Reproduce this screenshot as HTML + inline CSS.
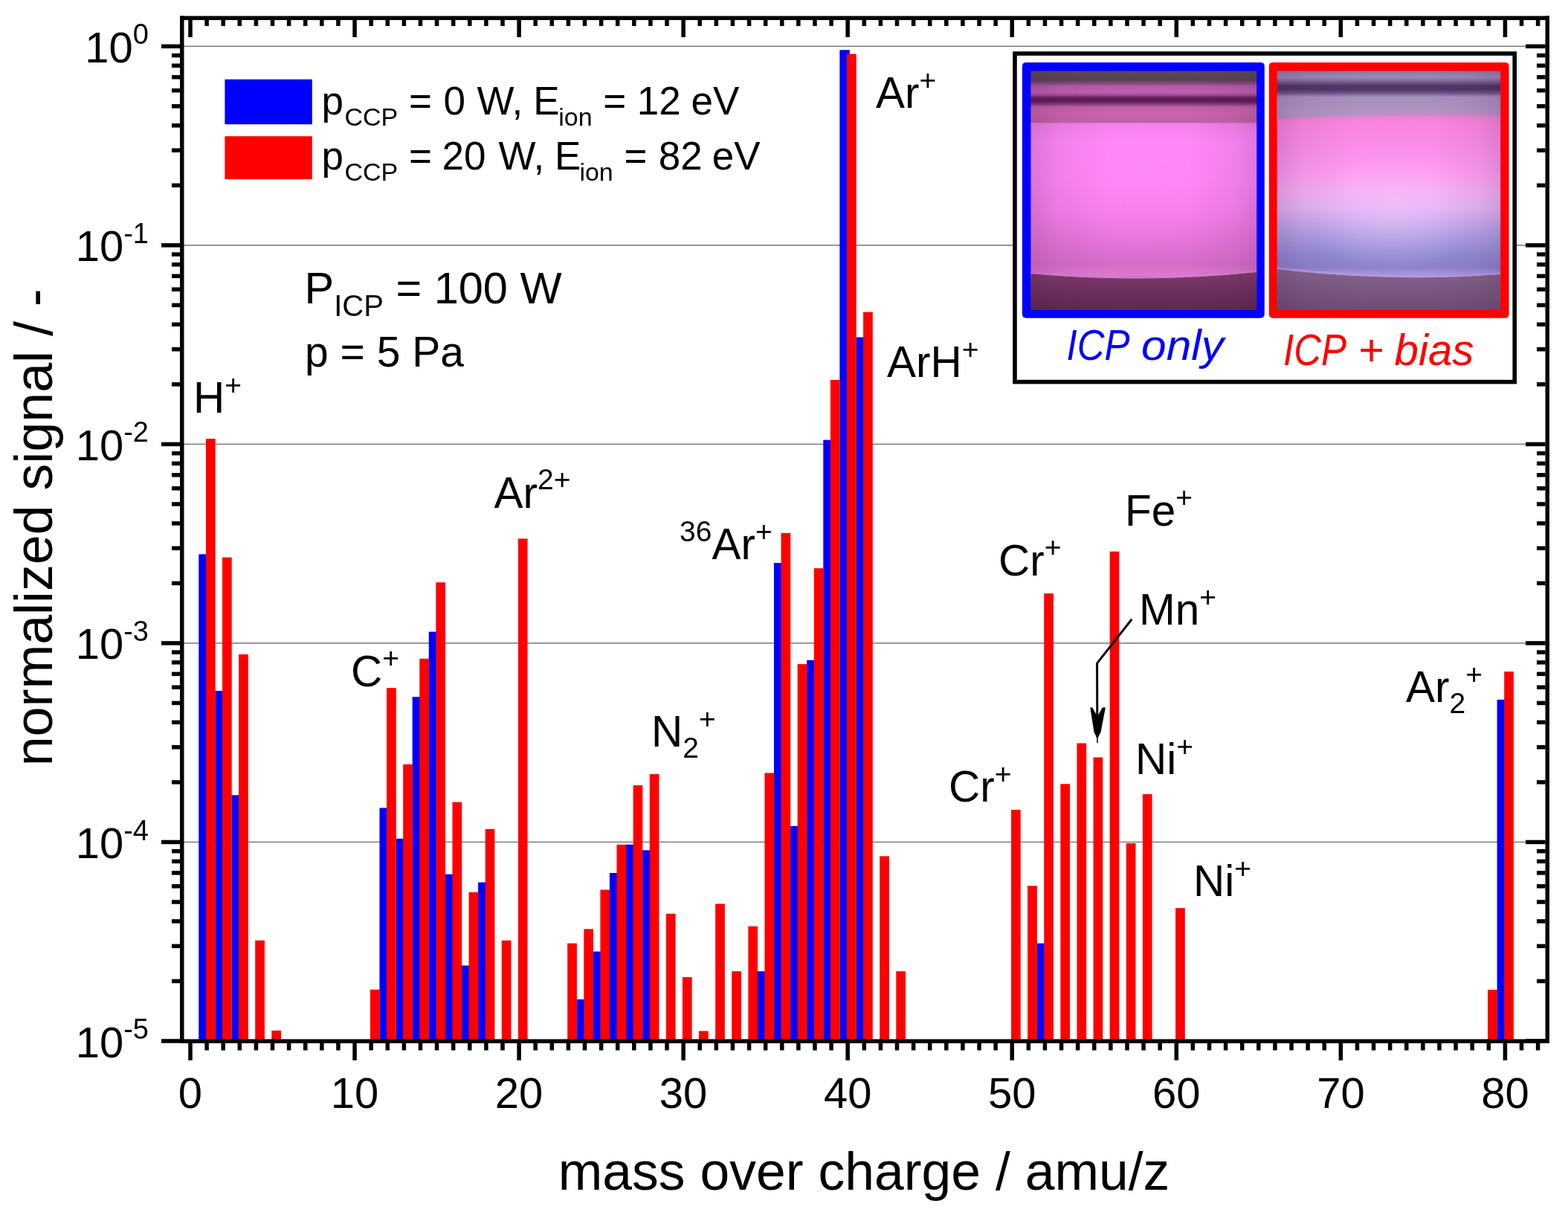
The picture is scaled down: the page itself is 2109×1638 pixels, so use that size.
<!DOCTYPE html><html><head><meta charset="utf-8"><title>Mass spectrum</title>
<style>html,body{margin:0;padding:0;background:#fff;}svg{display:block;}text{font-family:"Liberation Sans",Arial,sans-serif;fill:#000;}.it{font-family:"Liberation Sans",Arial,sans-serif;font-style:italic;}</style></head><body>
<svg width="2109" height="1638" viewBox="0 0 2109 1638">
<rect x="0" y="0" width="2109" height="1638" fill="#fff"/>
<defs>
<linearGradient id="gL" x1="0" y1="0" x2="0" y2="1"><stop offset="0.0000" stop-color="#5c4a58"/><stop offset="0.0389" stop-color="#584252"/><stop offset="0.0514" stop-color="#8a4880"/><stop offset="0.0638" stop-color="#b45aa6"/><stop offset="0.0887" stop-color="#c060b0"/><stop offset="0.1012" stop-color="#a04a94"/><stop offset="0.1105" stop-color="#6a2260"/><stop offset="0.1229" stop-color="#581850"/><stop offset="0.1354" stop-color="#7a3072"/><stop offset="0.1509" stop-color="#c062a8"/><stop offset="0.1758" stop-color="#c864ac"/><stop offset="0.2007" stop-color="#c662a8"/><stop offset="0.2132" stop-color="#c060a4"/><stop offset="0.2210" stop-color="#f07ee8"/><stop offset="0.2941" stop-color="#fc86f6"/><stop offset="0.4497" stop-color="#fb84f4"/><stop offset="0.5898" stop-color="#f47ee8"/><stop offset="0.6832" stop-color="#e676da"/><stop offset="0.7547" stop-color="#dc70d0"/><stop offset="0.8077" stop-color="#d46cc6"/><stop offset="0.8388" stop-color="#d874cc"/><stop offset="0.8543" stop-color="#dc7cd2"/><stop offset="0.8668" stop-color="#a85898"/><stop offset="0.8792" stop-color="#7e3c6a"/><stop offset="0.9477" stop-color="#6e3060"/><stop offset="1.0000" stop-color="#5c2a4c"/></linearGradient>
<linearGradient id="gR" x1="0" y1="0" x2="0" y2="1"><stop offset="0.0000" stop-color="#8a76a6"/><stop offset="0.0265" stop-color="#9c88b8"/><stop offset="0.0451" stop-color="#7a6090"/><stop offset="0.0607" stop-color="#503866"/><stop offset="0.0763" stop-color="#4c3462"/><stop offset="0.0918" stop-color="#6c5488"/><stop offset="0.1105" stop-color="#a890c0"/><stop offset="0.1634" stop-color="#b294c2"/><stop offset="0.1790" stop-color="#c08cc0"/><stop offset="0.1945" stop-color="#e884d4"/><stop offset="0.2132" stop-color="#f884dc"/><stop offset="0.3252" stop-color="#fa8ee8"/><stop offset="0.4342" stop-color="#fc9ef2"/><stop offset="0.5058" stop-color="#f4aef4"/><stop offset="0.5680" stop-color="#e4b4f4"/><stop offset="0.6303" stop-color="#c8aaee"/><stop offset="0.6987" stop-color="#a89ce0"/><stop offset="0.7765" stop-color="#9088d0"/><stop offset="0.8232" stop-color="#8c82cc"/><stop offset="0.8450" stop-color="#a690da"/><stop offset="0.8606" stop-color="#ae96de"/><stop offset="0.8730" stop-color="#8a6a98"/><stop offset="0.8855" stop-color="#7e5e84"/><stop offset="1.0000" stop-color="#6e4e72"/></linearGradient>
<linearGradient id="vig" x1="0" y1="0" x2="1" y2="0"><stop offset="0" stop-color="#401040" stop-opacity="0.16"/><stop offset="0.12" stop-color="#401040" stop-opacity="0.06"/><stop offset="0.35" stop-color="#401040" stop-opacity="0"/><stop offset="0.7" stop-color="#401040" stop-opacity="0"/><stop offset="0.9" stop-color="#401040" stop-opacity="0.06"/><stop offset="1" stop-color="#401040" stop-opacity="0.14"/></linearGradient>
<radialGradient id="hlL" cx="0.48" cy="0.3" r="0.6"><stop offset="0" stop-color="#ff90ff" stop-opacity="0.35"/><stop offset="1" stop-color="#ff90ff" stop-opacity="0"/></radialGradient>
<radialGradient id="hlR" cx="0.52" cy="0.6" r="0.38"><stop offset="0" stop-color="#f4d4ff" stop-opacity="0.35"/><stop offset="1" stop-color="#f4d4ff" stop-opacity="0"/></radialGradient>
<linearGradient id="bandL" x1="0" y1="0" x2="0" y2="1"><stop offset="0" stop-color="#7e3c6a"/><stop offset="0.5" stop-color="#6e3060"/><stop offset="1" stop-color="#5c2a4c"/></linearGradient>
<linearGradient id="bandR" x1="0" y1="0" x2="0" y2="1"><stop offset="0" stop-color="#84648e"/><stop offset="1" stop-color="#6e4e72"/></linearGradient>
<linearGradient id="lavR" x1="0" y1="0" x2="0" y2="1"><stop offset="0" stop-color="#a68ebe"/><stop offset="0.8" stop-color="#b294c2"/><stop offset="1" stop-color="#bc8ec2"/></linearGradient>
<clipPath id="clipR"><rect x="1717.7" y="95.5" width="300.4" height="321.3"/></clipPath>
<filter id="soft" x="-5%" y="-30%" width="110%" height="160%"><feGaussianBlur stdDeviation="1.8"/></filter>
</defs>
<rect x="244.75" y="61.50" width="1836.50" height="1.6" fill="#808080"/>
<rect x="244.75" y="329.04" width="1836.50" height="1.6" fill="#808080"/>
<rect x="244.75" y="596.58" width="1836.50" height="1.6" fill="#808080"/>
<rect x="244.75" y="864.12" width="1836.50" height="1.6" fill="#808080"/>
<rect x="244.75" y="1131.66" width="1836.50" height="1.6" fill="#808080"/>
<rect x="267.31" y="745.3" width="13.50" height="655.0" fill="#0000ff"/>
<rect x="289.41" y="929.0" width="13.50" height="471.2" fill="#0000ff"/>
<rect x="311.51" y="1069.3" width="13.50" height="331.0" fill="#0000ff"/>
<rect x="510.46" y="1086.5" width="13.50" height="313.8" fill="#0000ff"/>
<rect x="532.57" y="1127.8" width="13.50" height="272.5" fill="#0000ff"/>
<rect x="554.67" y="937.2" width="13.50" height="463.0" fill="#0000ff"/>
<rect x="576.78" y="849.6" width="13.50" height="550.6" fill="#0000ff"/>
<rect x="598.88" y="1175.7" width="13.50" height="224.5" fill="#0000ff"/>
<rect x="620.99" y="1298.5" width="13.50" height="101.8" fill="#0000ff"/>
<rect x="643.09" y="1186.6" width="13.50" height="213.7" fill="#0000ff"/>
<rect x="775.72" y="1344.0" width="13.50" height="56.2" fill="#0000ff"/>
<rect x="797.83" y="1279.6" width="13.50" height="120.7" fill="#0000ff"/>
<rect x="819.93" y="1174.0" width="13.50" height="226.2" fill="#0000ff"/>
<rect x="842.04" y="1135.8" width="13.50" height="264.5" fill="#0000ff"/>
<rect x="864.14" y="1143.4" width="13.50" height="256.8" fill="#0000ff"/>
<rect x="1018.88" y="1306.2" width="13.50" height="94.0" fill="#0000ff"/>
<rect x="1040.98" y="757.0" width="13.50" height="643.2" fill="#0000ff"/>
<rect x="1063.09" y="1110.9" width="13.50" height="289.3" fill="#0000ff"/>
<rect x="1085.19" y="887.8" width="13.50" height="512.5" fill="#0000ff"/>
<rect x="1107.30" y="591.6" width="13.50" height="808.6" fill="#0000ff"/>
<rect x="1129.40" y="67.2" width="13.50" height="1333.0" fill="#0000ff"/>
<rect x="1151.51" y="453.5" width="13.50" height="946.8" fill="#0000ff"/>
<rect x="1394.66" y="1268.6" width="13.50" height="131.7" fill="#0000ff"/>
<rect x="2013.60" y="940.9" width="13.50" height="459.4" fill="#0000ff"/>
<rect x="276.91" y="590.0" width="12.70" height="810.2" fill="#ff0000"/>
<rect x="299.01" y="749.6" width="12.70" height="650.6" fill="#ff0000"/>
<rect x="321.12" y="880.0" width="12.70" height="520.2" fill="#ff0000"/>
<rect x="343.22" y="1264.7" width="12.70" height="135.5" fill="#ff0000"/>
<rect x="365.32" y="1385.9" width="12.70" height="14.3" fill="#ff0000"/>
<rect x="497.95" y="1330.8" width="12.70" height="69.5" fill="#ff0000"/>
<rect x="520.06" y="925.2" width="12.70" height="475.0" fill="#ff0000"/>
<rect x="542.16" y="1027.9" width="12.70" height="372.3" fill="#ff0000"/>
<rect x="564.27" y="885.8" width="12.70" height="514.5" fill="#ff0000"/>
<rect x="586.38" y="783.2" width="12.70" height="617.0" fill="#ff0000"/>
<rect x="608.48" y="1078.7" width="12.70" height="321.5" fill="#ff0000"/>
<rect x="630.59" y="1199.9" width="12.70" height="200.3" fill="#ff0000"/>
<rect x="652.69" y="1114.9" width="12.70" height="285.3" fill="#ff0000"/>
<rect x="674.79" y="1264.7" width="12.70" height="135.5" fill="#ff0000"/>
<rect x="696.90" y="724.4" width="12.70" height="675.9" fill="#ff0000"/>
<rect x="763.21" y="1268.6" width="12.70" height="131.7" fill="#ff0000"/>
<rect x="785.32" y="1249.4" width="12.70" height="150.8" fill="#ff0000"/>
<rect x="807.42" y="1196.6" width="12.70" height="203.7" fill="#ff0000"/>
<rect x="829.53" y="1135.8" width="12.70" height="264.5" fill="#ff0000"/>
<rect x="851.63" y="1056.1" width="12.70" height="344.2" fill="#ff0000"/>
<rect x="873.74" y="1041.1" width="12.70" height="359.2" fill="#ff0000"/>
<rect x="895.84" y="1228.8" width="12.70" height="171.5" fill="#ff0000"/>
<rect x="917.95" y="1314.1" width="12.70" height="86.2" fill="#ff0000"/>
<rect x="940.05" y="1386.5" width="12.70" height="13.8" fill="#ff0000"/>
<rect x="962.16" y="1215.5" width="12.70" height="184.8" fill="#ff0000"/>
<rect x="984.26" y="1306.2" width="12.70" height="94.0" fill="#ff0000"/>
<rect x="1006.37" y="1245.7" width="12.70" height="154.5" fill="#ff0000"/>
<rect x="1028.48" y="1039.5" width="12.70" height="360.8" fill="#ff0000"/>
<rect x="1050.58" y="716.8" width="12.70" height="683.5" fill="#ff0000"/>
<rect x="1072.68" y="893.1" width="12.70" height="507.1" fill="#ff0000"/>
<rect x="1094.79" y="764.2" width="12.70" height="636.0" fill="#ff0000"/>
<rect x="1116.89" y="510.9" width="12.70" height="889.4" fill="#ff0000"/>
<rect x="1139.00" y="72.5" width="12.70" height="1327.8" fill="#ff0000"/>
<rect x="1161.11" y="419.6" width="12.70" height="980.6" fill="#ff0000"/>
<rect x="1183.21" y="1151.4" width="12.70" height="248.8" fill="#ff0000"/>
<rect x="1205.31" y="1306.2" width="12.70" height="94.0" fill="#ff0000"/>
<rect x="1360.05" y="1089.0" width="12.70" height="311.2" fill="#ff0000"/>
<rect x="1382.15" y="1191.3" width="12.70" height="209.0" fill="#ff0000"/>
<rect x="1404.26" y="798.1" width="12.70" height="602.1" fill="#ff0000"/>
<rect x="1426.37" y="1054.3" width="12.70" height="346.0" fill="#ff0000"/>
<rect x="1448.47" y="999.5" width="12.70" height="400.8" fill="#ff0000"/>
<rect x="1470.58" y="1018.5" width="12.70" height="381.8" fill="#ff0000"/>
<rect x="1492.68" y="741.7" width="12.70" height="658.5" fill="#ff0000"/>
<rect x="1514.79" y="1134.1" width="12.70" height="266.2" fill="#ff0000"/>
<rect x="1536.89" y="1068.0" width="12.70" height="332.2" fill="#ff0000"/>
<rect x="1581.10" y="1221.2" width="12.70" height="179.0" fill="#ff0000"/>
<rect x="2001.10" y="1331.0" width="12.70" height="69.2" fill="#ff0000"/>
<rect x="2023.20" y="903.2" width="12.70" height="497.0" fill="#ff0000"/>
<rect x="242.0" y="21.5" width="1842.0" height="5.5" fill="#000"/>
<rect x="242.0" y="1397.5" width="1842.0" height="5.5" fill="#000"/>
<rect x="242.0" y="21.5" width="5.5" height="1381.5" fill="#000"/>
<rect x="2078.5" y="21.5" width="5.5" height="1381.5" fill="#000"/>
<rect x="253.25" y="1403.00" width="5.5" height="23" fill="#000"/>
<rect x="253.25" y="27.00" width="5.5" height="23" fill="#000"/>
<rect x="275.36" y="1403.00" width="5.5" height="9.5" fill="#000"/>
<rect x="275.36" y="27.00" width="5.5" height="8" fill="#000"/>
<rect x="297.46" y="1403.00" width="5.5" height="9.5" fill="#000"/>
<rect x="297.46" y="27.00" width="5.5" height="8" fill="#000"/>
<rect x="319.56" y="1403.00" width="5.5" height="9.5" fill="#000"/>
<rect x="319.56" y="27.00" width="5.5" height="8" fill="#000"/>
<rect x="341.67" y="1403.00" width="5.5" height="9.5" fill="#000"/>
<rect x="341.67" y="27.00" width="5.5" height="8" fill="#000"/>
<rect x="363.77" y="1403.00" width="5.5" height="9.5" fill="#000"/>
<rect x="363.77" y="27.00" width="5.5" height="8" fill="#000"/>
<rect x="385.88" y="1403.00" width="5.5" height="9.5" fill="#000"/>
<rect x="385.88" y="27.00" width="5.5" height="8" fill="#000"/>
<rect x="407.99" y="1403.00" width="5.5" height="9.5" fill="#000"/>
<rect x="407.99" y="27.00" width="5.5" height="8" fill="#000"/>
<rect x="430.09" y="1403.00" width="5.5" height="9.5" fill="#000"/>
<rect x="430.09" y="27.00" width="5.5" height="8" fill="#000"/>
<rect x="452.19" y="1403.00" width="5.5" height="9.5" fill="#000"/>
<rect x="452.19" y="27.00" width="5.5" height="8" fill="#000"/>
<rect x="474.30" y="1403.00" width="5.5" height="23" fill="#000"/>
<rect x="474.30" y="27.00" width="5.5" height="23" fill="#000"/>
<rect x="496.40" y="1403.00" width="5.5" height="9.5" fill="#000"/>
<rect x="496.40" y="27.00" width="5.5" height="8" fill="#000"/>
<rect x="518.51" y="1403.00" width="5.5" height="9.5" fill="#000"/>
<rect x="518.51" y="27.00" width="5.5" height="8" fill="#000"/>
<rect x="540.62" y="1403.00" width="5.5" height="9.5" fill="#000"/>
<rect x="540.62" y="27.00" width="5.5" height="8" fill="#000"/>
<rect x="562.72" y="1403.00" width="5.5" height="9.5" fill="#000"/>
<rect x="562.72" y="27.00" width="5.5" height="8" fill="#000"/>
<rect x="584.83" y="1403.00" width="5.5" height="9.5" fill="#000"/>
<rect x="584.83" y="27.00" width="5.5" height="8" fill="#000"/>
<rect x="606.93" y="1403.00" width="5.5" height="9.5" fill="#000"/>
<rect x="606.93" y="27.00" width="5.5" height="8" fill="#000"/>
<rect x="629.04" y="1403.00" width="5.5" height="9.5" fill="#000"/>
<rect x="629.04" y="27.00" width="5.5" height="8" fill="#000"/>
<rect x="651.14" y="1403.00" width="5.5" height="9.5" fill="#000"/>
<rect x="651.14" y="27.00" width="5.5" height="8" fill="#000"/>
<rect x="673.25" y="1403.00" width="5.5" height="9.5" fill="#000"/>
<rect x="673.25" y="27.00" width="5.5" height="8" fill="#000"/>
<rect x="695.35" y="1403.00" width="5.5" height="23" fill="#000"/>
<rect x="695.35" y="27.00" width="5.5" height="23" fill="#000"/>
<rect x="717.45" y="1403.00" width="5.5" height="9.5" fill="#000"/>
<rect x="717.45" y="27.00" width="5.5" height="8" fill="#000"/>
<rect x="739.56" y="1403.00" width="5.5" height="9.5" fill="#000"/>
<rect x="739.56" y="27.00" width="5.5" height="8" fill="#000"/>
<rect x="761.66" y="1403.00" width="5.5" height="9.5" fill="#000"/>
<rect x="761.66" y="27.00" width="5.5" height="8" fill="#000"/>
<rect x="783.77" y="1403.00" width="5.5" height="9.5" fill="#000"/>
<rect x="783.77" y="27.00" width="5.5" height="8" fill="#000"/>
<rect x="805.88" y="1403.00" width="5.5" height="9.5" fill="#000"/>
<rect x="805.88" y="27.00" width="5.5" height="8" fill="#000"/>
<rect x="827.98" y="1403.00" width="5.5" height="9.5" fill="#000"/>
<rect x="827.98" y="27.00" width="5.5" height="8" fill="#000"/>
<rect x="850.09" y="1403.00" width="5.5" height="9.5" fill="#000"/>
<rect x="850.09" y="27.00" width="5.5" height="8" fill="#000"/>
<rect x="872.19" y="1403.00" width="5.5" height="9.5" fill="#000"/>
<rect x="872.19" y="27.00" width="5.5" height="8" fill="#000"/>
<rect x="894.29" y="1403.00" width="5.5" height="9.5" fill="#000"/>
<rect x="894.29" y="27.00" width="5.5" height="8" fill="#000"/>
<rect x="916.40" y="1403.00" width="5.5" height="23" fill="#000"/>
<rect x="916.40" y="27.00" width="5.5" height="23" fill="#000"/>
<rect x="938.50" y="1403.00" width="5.5" height="9.5" fill="#000"/>
<rect x="938.50" y="27.00" width="5.5" height="8" fill="#000"/>
<rect x="960.61" y="1403.00" width="5.5" height="9.5" fill="#000"/>
<rect x="960.61" y="27.00" width="5.5" height="8" fill="#000"/>
<rect x="982.72" y="1403.00" width="5.5" height="9.5" fill="#000"/>
<rect x="982.72" y="27.00" width="5.5" height="8" fill="#000"/>
<rect x="1004.82" y="1403.00" width="5.5" height="9.5" fill="#000"/>
<rect x="1004.82" y="27.00" width="5.5" height="8" fill="#000"/>
<rect x="1026.93" y="1403.00" width="5.5" height="9.5" fill="#000"/>
<rect x="1026.93" y="27.00" width="5.5" height="8" fill="#000"/>
<rect x="1049.03" y="1403.00" width="5.5" height="9.5" fill="#000"/>
<rect x="1049.03" y="27.00" width="5.5" height="8" fill="#000"/>
<rect x="1071.13" y="1403.00" width="5.5" height="9.5" fill="#000"/>
<rect x="1071.13" y="27.00" width="5.5" height="8" fill="#000"/>
<rect x="1093.24" y="1403.00" width="5.5" height="9.5" fill="#000"/>
<rect x="1093.24" y="27.00" width="5.5" height="8" fill="#000"/>
<rect x="1115.35" y="1403.00" width="5.5" height="9.5" fill="#000"/>
<rect x="1115.35" y="27.00" width="5.5" height="8" fill="#000"/>
<rect x="1137.45" y="1403.00" width="5.5" height="23" fill="#000"/>
<rect x="1137.45" y="27.00" width="5.5" height="23" fill="#000"/>
<rect x="1159.56" y="1403.00" width="5.5" height="9.5" fill="#000"/>
<rect x="1159.56" y="27.00" width="5.5" height="8" fill="#000"/>
<rect x="1181.66" y="1403.00" width="5.5" height="9.5" fill="#000"/>
<rect x="1181.66" y="27.00" width="5.5" height="8" fill="#000"/>
<rect x="1203.76" y="1403.00" width="5.5" height="9.5" fill="#000"/>
<rect x="1203.76" y="27.00" width="5.5" height="8" fill="#000"/>
<rect x="1225.87" y="1403.00" width="5.5" height="9.5" fill="#000"/>
<rect x="1225.87" y="27.00" width="5.5" height="8" fill="#000"/>
<rect x="1247.97" y="1403.00" width="5.5" height="9.5" fill="#000"/>
<rect x="1247.97" y="27.00" width="5.5" height="8" fill="#000"/>
<rect x="1270.08" y="1403.00" width="5.5" height="9.5" fill="#000"/>
<rect x="1270.08" y="27.00" width="5.5" height="8" fill="#000"/>
<rect x="1292.18" y="1403.00" width="5.5" height="9.5" fill="#000"/>
<rect x="1292.18" y="27.00" width="5.5" height="8" fill="#000"/>
<rect x="1314.29" y="1403.00" width="5.5" height="9.5" fill="#000"/>
<rect x="1314.29" y="27.00" width="5.5" height="8" fill="#000"/>
<rect x="1336.39" y="1403.00" width="5.5" height="9.5" fill="#000"/>
<rect x="1336.39" y="27.00" width="5.5" height="8" fill="#000"/>
<rect x="1358.50" y="1403.00" width="5.5" height="23" fill="#000"/>
<rect x="1358.50" y="27.00" width="5.5" height="23" fill="#000"/>
<rect x="1380.61" y="1403.00" width="5.5" height="9.5" fill="#000"/>
<rect x="1380.61" y="27.00" width="5.5" height="8" fill="#000"/>
<rect x="1402.71" y="1403.00" width="5.5" height="9.5" fill="#000"/>
<rect x="1402.71" y="27.00" width="5.5" height="8" fill="#000"/>
<rect x="1424.82" y="1403.00" width="5.5" height="9.5" fill="#000"/>
<rect x="1424.82" y="27.00" width="5.5" height="8" fill="#000"/>
<rect x="1446.92" y="1403.00" width="5.5" height="9.5" fill="#000"/>
<rect x="1446.92" y="27.00" width="5.5" height="8" fill="#000"/>
<rect x="1469.03" y="1403.00" width="5.5" height="9.5" fill="#000"/>
<rect x="1469.03" y="27.00" width="5.5" height="8" fill="#000"/>
<rect x="1491.13" y="1403.00" width="5.5" height="9.5" fill="#000"/>
<rect x="1491.13" y="27.00" width="5.5" height="8" fill="#000"/>
<rect x="1513.24" y="1403.00" width="5.5" height="9.5" fill="#000"/>
<rect x="1513.24" y="27.00" width="5.5" height="8" fill="#000"/>
<rect x="1535.34" y="1403.00" width="5.5" height="9.5" fill="#000"/>
<rect x="1535.34" y="27.00" width="5.5" height="8" fill="#000"/>
<rect x="1557.44" y="1403.00" width="5.5" height="9.5" fill="#000"/>
<rect x="1557.44" y="27.00" width="5.5" height="8" fill="#000"/>
<rect x="1579.55" y="1403.00" width="5.5" height="23" fill="#000"/>
<rect x="1579.55" y="27.00" width="5.5" height="23" fill="#000"/>
<rect x="1601.65" y="1403.00" width="5.5" height="9.5" fill="#000"/>
<rect x="1601.65" y="27.00" width="5.5" height="8" fill="#000"/>
<rect x="1623.76" y="1403.00" width="5.5" height="9.5" fill="#000"/>
<rect x="1623.76" y="27.00" width="5.5" height="8" fill="#000"/>
<rect x="1645.87" y="1403.00" width="5.5" height="9.5" fill="#000"/>
<rect x="1645.87" y="27.00" width="5.5" height="8" fill="#000"/>
<rect x="1667.97" y="1403.00" width="5.5" height="9.5" fill="#000"/>
<rect x="1667.97" y="27.00" width="5.5" height="8" fill="#000"/>
<rect x="1690.08" y="1403.00" width="5.5" height="9.5" fill="#000"/>
<rect x="1690.08" y="27.00" width="5.5" height="8" fill="#000"/>
<rect x="1712.18" y="1403.00" width="5.5" height="9.5" fill="#000"/>
<rect x="1712.18" y="27.00" width="5.5" height="8" fill="#000"/>
<rect x="1734.29" y="1403.00" width="5.5" height="9.5" fill="#000"/>
<rect x="1734.29" y="27.00" width="5.5" height="8" fill="#000"/>
<rect x="1756.39" y="1403.00" width="5.5" height="9.5" fill="#000"/>
<rect x="1756.39" y="27.00" width="5.5" height="8" fill="#000"/>
<rect x="1778.50" y="1403.00" width="5.5" height="9.5" fill="#000"/>
<rect x="1778.50" y="27.00" width="5.5" height="8" fill="#000"/>
<rect x="1800.60" y="1403.00" width="5.5" height="23" fill="#000"/>
<rect x="1800.60" y="27.00" width="5.5" height="23" fill="#000"/>
<rect x="1822.70" y="1403.00" width="5.5" height="9.5" fill="#000"/>
<rect x="1822.70" y="27.00" width="5.5" height="8" fill="#000"/>
<rect x="1844.81" y="1403.00" width="5.5" height="9.5" fill="#000"/>
<rect x="1844.81" y="27.00" width="5.5" height="8" fill="#000"/>
<rect x="1866.91" y="1403.00" width="5.5" height="9.5" fill="#000"/>
<rect x="1866.91" y="27.00" width="5.5" height="8" fill="#000"/>
<rect x="1889.02" y="1403.00" width="5.5" height="9.5" fill="#000"/>
<rect x="1889.02" y="27.00" width="5.5" height="8" fill="#000"/>
<rect x="1911.12" y="1403.00" width="5.5" height="9.5" fill="#000"/>
<rect x="1911.12" y="27.00" width="5.5" height="8" fill="#000"/>
<rect x="1933.23" y="1403.00" width="5.5" height="9.5" fill="#000"/>
<rect x="1933.23" y="27.00" width="5.5" height="8" fill="#000"/>
<rect x="1955.34" y="1403.00" width="5.5" height="9.5" fill="#000"/>
<rect x="1955.34" y="27.00" width="5.5" height="8" fill="#000"/>
<rect x="1977.44" y="1403.00" width="5.5" height="9.5" fill="#000"/>
<rect x="1977.44" y="27.00" width="5.5" height="8" fill="#000"/>
<rect x="1999.55" y="1403.00" width="5.5" height="9.5" fill="#000"/>
<rect x="1999.55" y="27.00" width="5.5" height="8" fill="#000"/>
<rect x="2021.65" y="1403.00" width="5.5" height="23" fill="#000"/>
<rect x="2021.65" y="27.00" width="5.5" height="23" fill="#000"/>
<rect x="2043.76" y="1403.00" width="5.5" height="9.5" fill="#000"/>
<rect x="2043.76" y="27.00" width="5.5" height="8" fill="#000"/>
<rect x="2065.86" y="1403.00" width="5.5" height="9.5" fill="#000"/>
<rect x="2065.86" y="27.00" width="5.5" height="8" fill="#000"/>
<rect x="217.00" y="327.09" width="25" height="5.5" fill="#000"/>
<rect x="2052.00" y="327.09" width="26.5" height="5.5" fill="#000"/>
<rect x="231.00" y="246.55" width="11" height="5.5" fill="#000"/>
<rect x="2067.00" y="246.55" width="11.5" height="5.5" fill="#000"/>
<rect x="231.00" y="199.44" width="11" height="5.5" fill="#000"/>
<rect x="2067.00" y="199.44" width="11.5" height="5.5" fill="#000"/>
<rect x="231.00" y="166.01" width="11" height="5.5" fill="#000"/>
<rect x="2067.00" y="166.01" width="11.5" height="5.5" fill="#000"/>
<rect x="231.00" y="140.09" width="11" height="5.5" fill="#000"/>
<rect x="2067.00" y="140.09" width="11.5" height="5.5" fill="#000"/>
<rect x="231.00" y="118.90" width="11" height="5.5" fill="#000"/>
<rect x="2067.00" y="118.90" width="11.5" height="5.5" fill="#000"/>
<rect x="231.00" y="100.99" width="11" height="5.5" fill="#000"/>
<rect x="2067.00" y="100.99" width="11.5" height="5.5" fill="#000"/>
<rect x="231.00" y="85.48" width="11" height="5.5" fill="#000"/>
<rect x="2067.00" y="85.48" width="11.5" height="5.5" fill="#000"/>
<rect x="231.00" y="71.79" width="11" height="5.5" fill="#000"/>
<rect x="2067.00" y="71.79" width="11.5" height="5.5" fill="#000"/>
<rect x="217.00" y="594.63" width="25" height="5.5" fill="#000"/>
<rect x="2052.00" y="594.63" width="26.5" height="5.5" fill="#000"/>
<rect x="231.00" y="514.09" width="11" height="5.5" fill="#000"/>
<rect x="2067.00" y="514.09" width="11.5" height="5.5" fill="#000"/>
<rect x="231.00" y="466.98" width="11" height="5.5" fill="#000"/>
<rect x="2067.00" y="466.98" width="11.5" height="5.5" fill="#000"/>
<rect x="231.00" y="433.55" width="11" height="5.5" fill="#000"/>
<rect x="2067.00" y="433.55" width="11.5" height="5.5" fill="#000"/>
<rect x="231.00" y="407.63" width="11" height="5.5" fill="#000"/>
<rect x="2067.00" y="407.63" width="11.5" height="5.5" fill="#000"/>
<rect x="231.00" y="386.44" width="11" height="5.5" fill="#000"/>
<rect x="2067.00" y="386.44" width="11.5" height="5.5" fill="#000"/>
<rect x="231.00" y="368.53" width="11" height="5.5" fill="#000"/>
<rect x="2067.00" y="368.53" width="11.5" height="5.5" fill="#000"/>
<rect x="231.00" y="353.02" width="11" height="5.5" fill="#000"/>
<rect x="2067.00" y="353.02" width="11.5" height="5.5" fill="#000"/>
<rect x="231.00" y="339.33" width="11" height="5.5" fill="#000"/>
<rect x="2067.00" y="339.33" width="11.5" height="5.5" fill="#000"/>
<rect x="217.00" y="862.17" width="25" height="5.5" fill="#000"/>
<rect x="2052.00" y="862.17" width="26.5" height="5.5" fill="#000"/>
<rect x="231.00" y="781.63" width="11" height="5.5" fill="#000"/>
<rect x="2067.00" y="781.63" width="11.5" height="5.5" fill="#000"/>
<rect x="231.00" y="734.52" width="11" height="5.5" fill="#000"/>
<rect x="2067.00" y="734.52" width="11.5" height="5.5" fill="#000"/>
<rect x="231.00" y="701.09" width="11" height="5.5" fill="#000"/>
<rect x="2067.00" y="701.09" width="11.5" height="5.5" fill="#000"/>
<rect x="231.00" y="675.17" width="11" height="5.5" fill="#000"/>
<rect x="2067.00" y="675.17" width="11.5" height="5.5" fill="#000"/>
<rect x="231.00" y="653.98" width="11" height="5.5" fill="#000"/>
<rect x="2067.00" y="653.98" width="11.5" height="5.5" fill="#000"/>
<rect x="231.00" y="636.07" width="11" height="5.5" fill="#000"/>
<rect x="2067.00" y="636.07" width="11.5" height="5.5" fill="#000"/>
<rect x="231.00" y="620.56" width="11" height="5.5" fill="#000"/>
<rect x="2067.00" y="620.56" width="11.5" height="5.5" fill="#000"/>
<rect x="231.00" y="606.87" width="11" height="5.5" fill="#000"/>
<rect x="2067.00" y="606.87" width="11.5" height="5.5" fill="#000"/>
<rect x="217.00" y="1129.71" width="25" height="5.5" fill="#000"/>
<rect x="2052.00" y="1129.71" width="26.5" height="5.5" fill="#000"/>
<rect x="231.00" y="1049.17" width="11" height="5.5" fill="#000"/>
<rect x="2067.00" y="1049.17" width="11.5" height="5.5" fill="#000"/>
<rect x="231.00" y="1002.06" width="11" height="5.5" fill="#000"/>
<rect x="2067.00" y="1002.06" width="11.5" height="5.5" fill="#000"/>
<rect x="231.00" y="968.63" width="11" height="5.5" fill="#000"/>
<rect x="2067.00" y="968.63" width="11.5" height="5.5" fill="#000"/>
<rect x="231.00" y="942.71" width="11" height="5.5" fill="#000"/>
<rect x="2067.00" y="942.71" width="11.5" height="5.5" fill="#000"/>
<rect x="231.00" y="921.52" width="11" height="5.5" fill="#000"/>
<rect x="2067.00" y="921.52" width="11.5" height="5.5" fill="#000"/>
<rect x="231.00" y="903.61" width="11" height="5.5" fill="#000"/>
<rect x="2067.00" y="903.61" width="11.5" height="5.5" fill="#000"/>
<rect x="231.00" y="888.10" width="11" height="5.5" fill="#000"/>
<rect x="2067.00" y="888.10" width="11.5" height="5.5" fill="#000"/>
<rect x="231.00" y="874.41" width="11" height="5.5" fill="#000"/>
<rect x="2067.00" y="874.41" width="11.5" height="5.5" fill="#000"/>
<rect x="217.00" y="1397.25" width="25" height="5.5" fill="#000"/>
<rect x="2052.00" y="1397.25" width="26.5" height="5.5" fill="#000"/>
<rect x="231.00" y="1316.71" width="11" height="5.5" fill="#000"/>
<rect x="2067.00" y="1316.71" width="11.5" height="5.5" fill="#000"/>
<rect x="231.00" y="1269.60" width="11" height="5.5" fill="#000"/>
<rect x="2067.00" y="1269.60" width="11.5" height="5.5" fill="#000"/>
<rect x="231.00" y="1236.17" width="11" height="5.5" fill="#000"/>
<rect x="2067.00" y="1236.17" width="11.5" height="5.5" fill="#000"/>
<rect x="231.00" y="1210.25" width="11" height="5.5" fill="#000"/>
<rect x="2067.00" y="1210.25" width="11.5" height="5.5" fill="#000"/>
<rect x="231.00" y="1189.06" width="11" height="5.5" fill="#000"/>
<rect x="2067.00" y="1189.06" width="11.5" height="5.5" fill="#000"/>
<rect x="231.00" y="1171.15" width="11" height="5.5" fill="#000"/>
<rect x="2067.00" y="1171.15" width="11.5" height="5.5" fill="#000"/>
<rect x="231.00" y="1155.64" width="11" height="5.5" fill="#000"/>
<rect x="2067.00" y="1155.64" width="11.5" height="5.5" fill="#000"/>
<rect x="231.00" y="1141.95" width="11" height="5.5" fill="#000"/>
<rect x="2067.00" y="1141.95" width="11.5" height="5.5" fill="#000"/>
<rect x="217.00" y="1664.79" width="25" height="5.5" fill="#000"/>
<rect x="2052.00" y="1664.79" width="26.5" height="5.5" fill="#000"/>
<rect x="217.00" y="59.55" width="25" height="5.5" fill="#000"/>
<rect x="2052.00" y="59.55" width="26.5" height="5.5" fill="#000"/>
<text x="200" y="83.8" font-size="58" text-anchor="end">10<tspan font-size="38" dy="-24.5">0</tspan></text>
<text x="200" y="351.3" font-size="58" text-anchor="end">10<tspan font-size="38" dy="-24.5">-1</tspan></text>
<text x="200" y="618.9" font-size="58" text-anchor="end">10<tspan font-size="38" dy="-24.5">-2</tspan></text>
<text x="200" y="886.4" font-size="58" text-anchor="end">10<tspan font-size="38" dy="-24.5">-3</tspan></text>
<text x="200" y="1154.0" font-size="58" text-anchor="end">10<tspan font-size="38" dy="-24.5">-4</tspan></text>
<text x="200" y="1421.5" font-size="58" text-anchor="end">10<tspan font-size="38" dy="-24.5">-5</tspan></text>
<text x="256.0" y="1490" font-size="58" text-anchor="middle">0</text>
<text x="477.1" y="1490" font-size="58" text-anchor="middle">10</text>
<text x="698.1" y="1490" font-size="58" text-anchor="middle">20</text>
<text x="919.1" y="1490" font-size="58" text-anchor="middle">30</text>
<text x="1140.2" y="1490" font-size="58" text-anchor="middle">40</text>
<text x="1361.2" y="1490" font-size="58" text-anchor="middle">50</text>
<text x="1582.3" y="1490" font-size="58" text-anchor="middle">60</text>
<text x="1803.4" y="1490" font-size="58" text-anchor="middle">70</text>
<text x="2024.4" y="1490" font-size="58" text-anchor="middle">80</text>
<text x="750.8" y="1599.6" font-size="71.5" id="xt">mass over charge / amu/z</text>
<text transform="translate(69.5,1030.3) rotate(-90)" x="0" y="0" font-size="71.75" id="yt">normalized signal / -</text>
<rect x="302.4" y="106.7" width="117.4" height="60.5" fill="#0000ff"/>
<rect x="302.4" y="183.2" width="117.4" height="57.9" fill="#ff0000"/>
<text y="153.6" font-size="53"><tspan x="432.6" y="153.6">p</tspan><tspan x="463.4" y="168.6" font-size="34">CCP</tspan><tspan x="550" y="153.6">=</tspan><tspan x="596.4" y="153.6">0</tspan><tspan x="641.4" y="153.6">W,</tspan><tspan x="717.2" y="153.6">E</tspan><tspan x="751.2" y="168.6" font-size="34">ion</tspan><tspan x="811.2" y="153.6">=</tspan><tspan x="856.8" y="153.6">12</tspan><tspan x="929.6" y="153.6">eV</tspan></text>
<text y="227.8" font-size="53"><tspan x="432.6" y="227.8">p</tspan><tspan x="463.4" y="242.8" font-size="34">CCP</tspan><tspan x="550" y="227.8">=</tspan><tspan x="594.6" y="227.8">20</tspan><tspan x="670.4" y="227.8">W,</tspan><tspan x="746.1" y="227.8">E</tspan><tspan x="779.4" y="242.8" font-size="34">ion</tspan><tspan x="839.4" y="227.8">=</tspan><tspan x="885.8" y="227.8">82</tspan><tspan x="957.8" y="227.8">eV</tspan></text>
<text x="409.5" y="407.8" font-size="59.5">P<tspan font-size="40" dy="17">ICP</tspan><tspan dy="-17"> = 100 W</tspan></text>
<text x="410" y="492.6" font-size="57">p = 5 Pa</text>
<text x="260" y="555.1" font-size="58.5">H<tspan font-size="39" dy="-24.5">+</tspan></text>
<text x="664.5" y="682.5" font-size="58.5">Ar<tspan font-size="39" dy="-24.5">2+</tspan></text>
<text x="472" y="922.7" font-size="58.5">C<tspan font-size="39" dy="-24.5">+</tspan></text>
<text x="914" y="752" font-size="58.5"><tspan font-size="39" dy="-24.5">36</tspan><tspan dy="24.5">Ar</tspan><tspan font-size="39" dy="-24.5">+</tspan></text>
<text x="876" y="1004.4" font-size="58.5">N<tspan font-size="39" dy="15">2</tspan><tspan font-size="39" dy="-39.5">+</tspan></text>
<text x="1178" y="145.1" font-size="58.5">Ar<tspan font-size="39" dy="-24.5">+</tspan></text>
<text x="1193" y="507.2" font-size="58.5">ArH<tspan font-size="39" dy="-24.5">+</tspan></text>
<text x="1343" y="773.5" font-size="58.5">Cr<tspan font-size="39" dy="-24.5">+</tspan></text>
<text x="1513" y="706.7" font-size="58.5">Fe<tspan font-size="39" dy="-24.5">+</tspan></text>
<text x="1532" y="840.3" font-size="58.5">Mn<tspan font-size="39" dy="-24.5">+</tspan></text>
<text x="1527" y="1041.4" font-size="58.5">Ni<tspan font-size="39" dy="-24.5">+</tspan></text>
<text x="1276" y="1078" font-size="58.5">Cr<tspan font-size="39" dy="-24.5">+</tspan></text>
<text x="1605" y="1205" font-size="58.5">Ni<tspan font-size="39" dy="-24.5">+</tspan></text>
<text x="1891" y="944.3" font-size="58.5">Ar<tspan font-size="39" dy="15">2</tspan><tspan font-size="39" dy="-39.5">+</tspan></text>
<polyline points="1522.3,832.8 1475.6,891.9 1475.9,992" fill="none" stroke="#000" stroke-width="3"/>
<line x1="1476" y1="990" x2="1476" y2="999.2" stroke="#000" stroke-width="1.5"/>
<polygon points="1466.3,951.5 1469.3,951.5 1476,963.5 1482.8,951.5 1486.9,951.5 1480.5,985 1476,993 1471.6,985" fill="#000"/>
<rect x="1365" y="72" width="672.2" height="441.6" fill="#fff" stroke="#000" stroke-width="5.6"/>
<rect x="1374.9" y="83.9" width="325.9" height="343.8" rx="5" fill="#0000ff"/>
<rect x="1386.5" y="95.5" width="303.7" height="321.3" fill="url(#gL)"/>
<rect x="1386.5" y="166.5" width="303.7" height="204" fill="url(#hlL)"/>
<path d="M1386.5,368 Q1538,382 1690.2,366 L1690.2,416.8 L1386.5,416.8 Z" fill="url(#bandL)"/>
<path d="M1386.5,366.5 Q1538,380.5 1690.2,364.5" fill="none" stroke="#d87ece" stroke-width="3" stroke-opacity="0.85"/>
<rect x="1386.5" y="95.5" width="303.7" height="321.3" fill="url(#vig)"/>
<rect x="1706.8" y="83.9" width="322.8" height="343.8" rx="5" fill="#ff0000"/>
<rect x="1717.7" y="95.5" width="300.4" height="321.3" fill="url(#gR)"/>
<rect x="1717.7" y="160" width="300.4" height="210" fill="url(#hlR)"/>
<g clip-path="url(#clipR)"><path d="M1712,130 L2024,130 L2024,150 Q1880,149 1712,161 Z" fill="url(#lavR)" filter="url(#soft)"/></g>
<path d="M1717.7,362 Q1868,380 2018.1,369 L2018.1,416.8 L1717.7,416.8 Z" fill="url(#bandR)"/>
<path d="M1717.7,360.5 Q1868,378.5 2018.1,367.5" fill="none" stroke="#b49ae2" stroke-width="3" stroke-opacity="0.85"/>
<rect x="1717.7" y="95.5" width="300.4" height="321.3" fill="url(#vig)"/>
<text class="it" x="1434.5" y="483.8" font-size="58" textLength="85" lengthAdjust="spacingAndGlyphs" style="fill:#0000ff">ICP</text>
<text class="it" x="1535" y="483.8" font-size="58" textLength="111" lengthAdjust="spacingAndGlyphs" style="fill:#0000ff">only</text>
<text class="it" x="1726" y="490.5" font-size="59" textLength="85" lengthAdjust="spacingAndGlyphs" style="fill:#ff0000">ICP</text>
<text class="it" x="1826.5" y="490.5" font-size="59" style="fill:#ff0000">+</text>
<text class="it" x="1875.5" y="490.5" font-size="59" textLength="107" lengthAdjust="spacingAndGlyphs" style="fill:#ff0000">bias</text>
</svg></body></html>
